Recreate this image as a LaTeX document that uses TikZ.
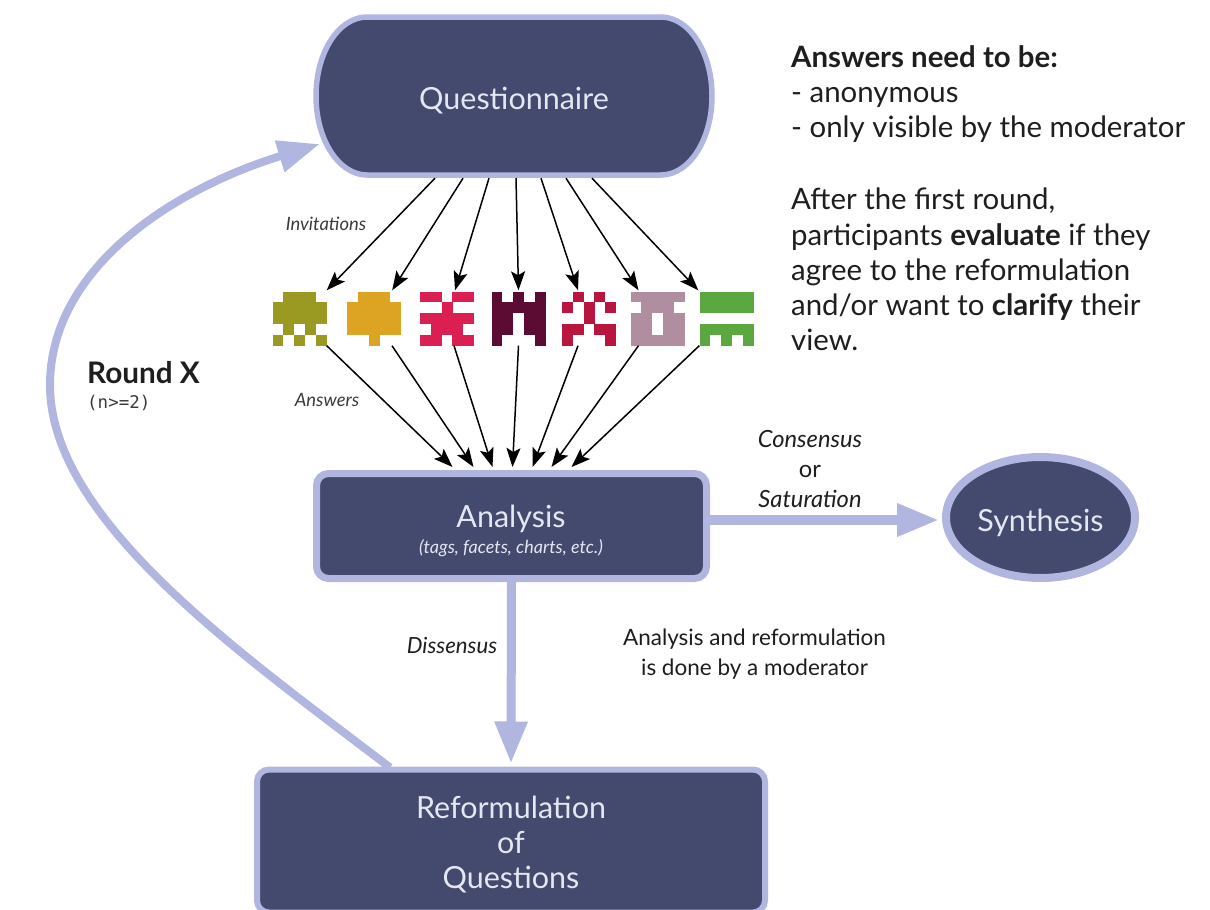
\documentclass[tikz,border=0pt]{standalone}
\usepackage{fontspec}
\setmainfont{Lato}
\newfontfamily\monof{DejaVu Sans Mono}
\usetikzlibrary{arrows.meta,calc,shapes.geometric}
\definecolor{boxfill}{HTML}{444A6E}
\definecolor{boxline}{HTML}{B0B6E0}
\definecolor{boxtext}{HTML}{E4E6F2}
\definecolor{inktext}{HTML}{1E1E1E}
\definecolor{softtext}{HTML}{3A3A3A}
\definecolor{iolive}{HTML}{9A9A22}
\definecolor{igold}{HTML}{DDA322}
\definecolor{ired}{HTML}{DC1F52}
\definecolor{idark}{HTML}{5C0B33}
\definecolor{icrim}{HTML}{B8163F}
\definecolor{imauve}{HTML}{B08EA0}
\definecolor{igreen}{HTML}{5AA83F}
\tikzset{
  flowbox/.style={draw=boxline,fill=boxfill,line width=6pt,text=boxtext,align=center,inner sep=0pt,font=\fontsize{30.5}{35}\selectfont},
  capsule/.style={draw=boxline,fill=boxfill,line width=5.5pt},
  boxlabel/.style={text=boxtext,align=center,inner sep=0pt,font=\fontsize{30.5}{35}\selectfont},
  iconbox/.style={minimum width=54pt,minimum height=54pt,inner sep=0pt},
  thin arrow/.style={draw=black,line width=1.5pt,-{Stealth[length=19pt,width=14pt,inset=4pt]}},
  thick arrow/.style={draw=boxline,line width=9pt,-{Triangle[length=42pt,width=31pt]}},
  small label/.style={text=softtext,font=\fontsize{18.4}{23}\selectfont\itshape,align=center},
  mid label/.style={text=inktext,font=\fontsize{23.7}{30}\selectfont,align=center},
  side text/.style={text=inktext,font=\fontsize{29.4}{35.2}\selectfont,align=left,anchor=north west,inner sep=0pt},
}
\newcommand{\pixicon}[5]{%
  \node[iconbox] (#1) at (#2,#3) {};
  \foreach \cx/\cy in {#5}{
    \fill[#4] ({#2-27+\cx*10.8},{#3-27+\cy*10.8}) rectangle ++(10.9,10.9);
  }
}
\begin{document}
\begin{tikzpicture}[x=1pt,y=-1pt]
\useasboundingbox (0,0) rectangle (1210,910);
\draw[capsule] (367,17) -- (661,17) .. controls (689,17) and (712,52) .. (712,96) .. controls (712,140) and (689,175) .. (661,175) -- (367,175) .. controls (339,175) and (316,140) .. (316,96) .. controls (316,52) and (339,17) .. (367,17) -- cycle;
\node[boxlabel,minimum width=402pt,minimum height=164pt] (q) at (514,96) {\raisebox{-5pt}[\height][\depth]{Questionnaire}};
\node[flowbox,rounded corners=12pt,line width=7pt,minimum width=390pt,minimum height=105pt] (a) at (511.5,526) {};
\node[boxlabel] (atitle) at (511,519) {Analysis};
\node[text=boxtext,inner sep=0pt,font=\fontsize{18}{20}\selectfont\itshape] (asub) at (511,548) {(tags, facets, charts, etc.)};
\node[flowbox,rounded corners=12pt,minimum width=508pt,minimum height=143pt] (r) at (511,841) {\raisebox{-5pt}[\height][\depth]{\begin{tabular}{@{}c@{}}Reformulation\\of\\Questions\end{tabular}}};
\node[flowbox,ellipse,line width=8pt,minimum width=189pt,minimum height=121pt] (s) at (1040.5,517.5) {\raisebox{-5pt}[\height][\depth]{Synthesis}};

\pixicon{icon1}{299.5}{318.5}{iolive}{1/0,2/0,3/0,0/1,1/1,2/1,3/1,4/1,0/2,1/2,2/2,3/2,4/2,1/3,3/3,0/4,2/4,4/4}
\pixicon{icon2}{374}{318.5}{igold}{1/0,2/0,3/0,0/1,1/1,2/1,3/1,4/1,0/2,1/2,2/2,3/2,4/2,0/3,1/3,2/3,3/3,4/3,2/4}
\pixicon{icon3}{447}{318.5}{ired}{0/0,1/0,3/0,4/0,2/1,0/2,1/2,2/2,3/2,4/2,1/3,2/3,3/3,0/4,1/4,3/4,4/4}
\pixicon{icon4}{518.5}{318.5}{idark}{0/0,2/0,4/0,0/1,1/1,2/1,3/1,4/1,0/2,1/2,3/2,4/2,0/3,1/3,3/3,4/3,0/4,4/4}
\pixicon{icon5}{589}{318.5}{icrim}{1/0,3/0,0/1,2/1,4/1,2/2,0/3,1/3,3/3,4/3,0/4,4/4}
\pixicon{icon6}{657.5}{318.5}{imauve}{0/0,1/0,2/0,3/0,4/0,1/1,2/1,3/1,0/2,1/2,3/2,4/2,0/3,1/3,3/3,4/3,0/4,1/4,2/4,3/4,4/4}
\pixicon{icon7}{726.5}{318.5}{igreen}{0/0,1/0,2/0,3/0,4/0,0/1,1/1,2/1,3/1,4/1,0/3,1/3,2/3,3/3,4/3,0/4,2/4,4/4}

\draw[thin arrow] ($(q.south)+(-79,0)$) -- ($(icon1.north east)+(0,-1)$);
\draw[thin arrow] ($(q.south)+(-51,0)$) -- ($(icon2.north east)+(-9,-1)$);
\draw[thin arrow] ($(q.south)+(-25,0)$) -- ($(icon3.north)+(8,-1)$);
\draw[thin arrow] ($(q.south)+(2,0)$) -- ($(icon4.north)+(0,-1)$);
\draw[thin arrow] ($(q.south)+(27,0)$) -- ($(icon5.north)+(-11,-1)$);
\draw[thin arrow] ($(q.south)+(52,0)$) -- ($(icon6.north)+(-19,-1)$);
\draw[thin arrow] ($(q.south)+(78,0)$) -- ($(icon7.north west)+(-1,-1)$);

\draw[thin arrow] (icon1.south east) -- ($(a.north)+(-59,-3)$);
\draw[thin arrow] ($(icon2.south)+(18,0)$) -- ($(a.north)+(-38,-3)$);
\draw[thin arrow] ($(icon3.south)+(7,0)$) -- ($(a.north)+(-19,-3)$);
\draw[thin arrow] (icon4.south) -- ($(a.north)+(1,-3)$);
\draw[thin arrow] ($(icon5.south)+(-11,0)$) -- ($(a.north)+(21,-3)$);
\draw[thin arrow] ($(icon6.south)+(-19,0)$) -- ($(a.north)+(40,-3)$);
\draw[thin arrow] (icon7.south west) -- ($(a.north)+(60,-3)$);

\draw[thick arrow,line width=9.5pt] ($(a.east)+(0,-6)$) -- ($(s.west)+(-3,2.5)$);
\draw[thick arrow] (a.south) -- ($(r.north)+(0,-3)$);
\coordinate (loopstart) at ($(r.north)+(-121,1)$);
\coordinate (loopend) at ($(q.west)+(7,48)$);
\draw[thick arrow,line width=8pt] (loopstart) .. controls (240,653) and (50,520) .. (50,385) .. controls (50,270) and (170,190) .. (loopend);

\node[small label] (linv) at (326,224) {Invitations};
\node[small label] (lans) at (327,400) {Answers};
\node[mid label] (lcons) at (810,469) {\textit{Consensus}\\or\\\textit{Saturation}};
\node[mid label,font=\fontsize{22.2}{30}\selectfont\itshape] (ldis) at (452,645) {Dissensus};
\node[mid label,font=\fontsize{22.5}{29.5}\selectfont] (lmod) at (754.5,654) {Analysis and reformulation\\is done by a moderator};
\node[text=inktext,inner sep=0pt,font=\fontsize{29.7}{32}\selectfont\bfseries,anchor=west] (lround) at (87,373) {Round X};
\node[text=softtext,inner sep=0pt,font=\fontsize{17.5}{20}\selectfont\monof,anchor=west] (ln) at (87,403) {(n>=2)};
\node[side text] (t1) at (791,45) {\textbf{Answers need to be:}\\- anonymous\\- only visible by the moderator};
\node[side text] (t2) at (791,188) {After the first round,\\participants \textbf{evaluate} if they\\agree to the reformulation\\and/or want to \textbf{clarify} their\\view.};
\end{tikzpicture}
\end{document}
